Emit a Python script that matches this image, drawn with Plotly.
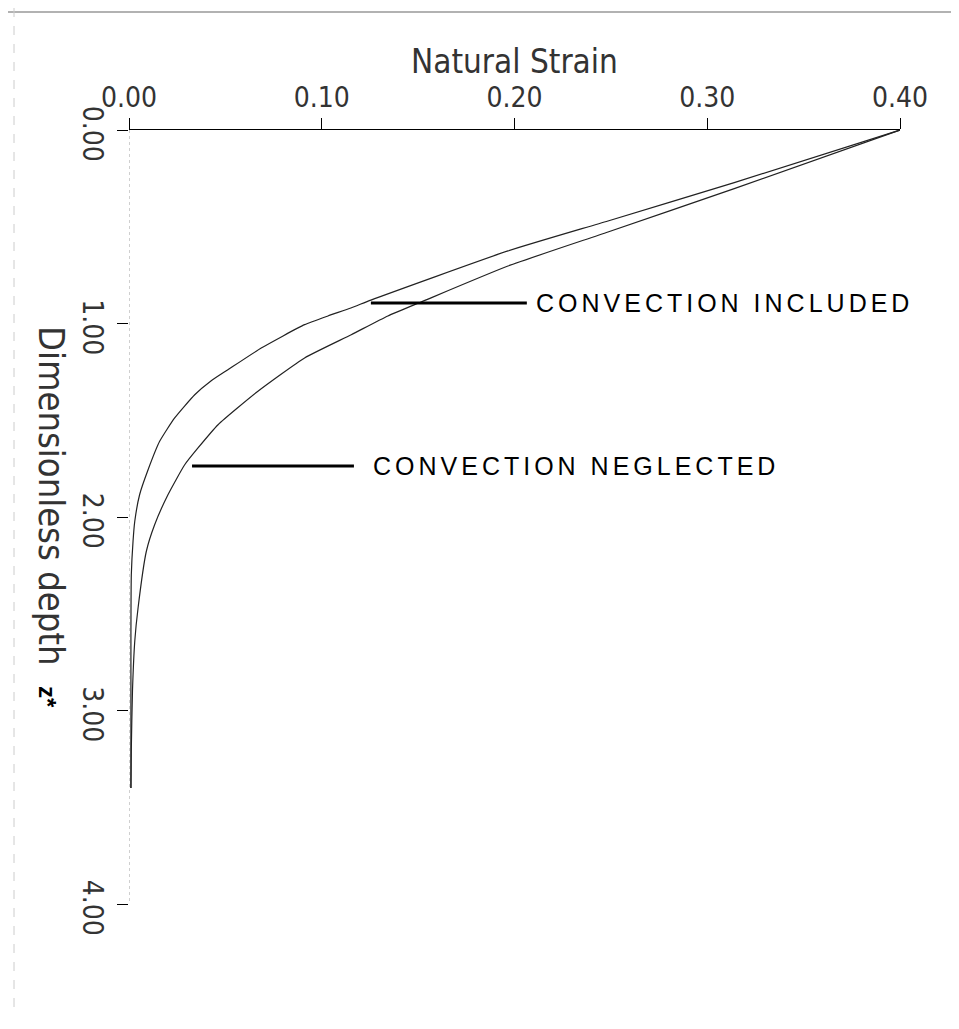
import plotly.graph_objects as go

# ---------------- data ----------------
depth_included = [0.000, 0.272, 0.470, 0.625, 0.879, 0.920, 0.961, 1.006, 1.127, 1.239,
                  1.297, 1.368, 1.488, 1.609, 1.756, 1.885, 2.022, 2.124, 2.298, 2.600,
                  3.000, 3.400]
strain_included = [0.400, 0.314, 0.2485, 0.1966, 0.1255, 0.1151, 0.1032, 0.0911, 0.0686, 0.0513,
                   0.0425, 0.0341, 0.0237, 0.0159, 0.0099, 0.0055, 0.0030, 0.0021, 0.0012, 0.0010,
                   0.0010, 0.0010]

depth_neglected = [0.000, 0.303, 0.527, 0.703, 0.889, 0.961, 1.058, 1.178, 1.350, 1.523,
                   1.643, 1.730, 1.885, 2.040, 2.177, 2.470, 2.641, 2.900, 3.200, 3.400]
strain_neglected = [0.400, 0.314, 0.2485, 0.1966, 0.1515, 0.1343, 0.1153, 0.0911, 0.0669, 0.0462,
                    0.0358, 0.0289, 0.0202, 0.0133, 0.0090, 0.0047, 0.0030, 0.0018, 0.0012, 0.0010]

x_tick_vals = [0.0, 0.1, 0.2, 0.3, 0.4]
x_tick_text = ["0.00", "0.10", "0.20", "0.30", "0.40"]
y_tick_vals = [0, 1, 2, 3, 4]
y_tick_text = ["0.00", "1.00", "2.00", "3.00", "4.00"]

x_title = "Natural Strain"
y_title = "Dimensionless depth"
label_included = "CONVECTION INCLUDED"
label_neglected = "CONVECTION NEGLECTED"

# annotation pointer positions (strain, depth)
inc_line = dict(x0=0.1255, x1=0.2064, depth=0.894, text_x=0.2101)
neg_line = dict(x0=0.0327, x1=0.1167, depth=1.736, text_x=0.1255)

# ---------------- layout constants ----------------
W, H = 959, 1029
ML, MR, MT, MB = 121, 67, 122, 133
PW, PH = W - ML - MR, H - MT - MB

def px_x(p):
    return (p - ML) / PW

def px_y(p):
    return (H - MB - p) / PH

STROKE_FONT = "Liberation Sans Narrow, DejaVu Sans Condensed, Arial Narrow, sans-serif"
INK = "#333333"

fig = go.Figure()
line_style = dict(color="#222222", width=1.2, shape="spline", smoothing=0.5)
fig.add_trace(go.Scatter(x=strain_neglected, y=depth_neglected, mode="lines",
                         line=line_style, name=label_neglected, showlegend=False))
fig.add_trace(go.Scatter(x=strain_included, y=depth_included, mode="lines",
                         line=line_style, name=label_included, showlegend=False))

fig.update_layout(
    width=W, height=H,
    margin=dict(l=ML, r=MR, t=MT, b=MB, pad=0),
    paper_bgcolor="white", plot_bgcolor="white",
    showlegend=False,
    xaxis=dict(
        side="top", range=[0, 0.4], showgrid=False, zeroline=False,
        showline=True, linecolor="black", linewidth=1.3,
        tickmode="array", tickvals=x_tick_vals, ticktext=x_tick_text,
        ticks="outside", ticklen=11, tickwidth=1, tickcolor="black",
        tickfont=dict(family=STROKE_FONT, size=28, color=INK),
    ),
    yaxis=dict(
        range=[4, 0], showgrid=False, zeroline=False, showline=False,
        tickmode="array", tickvals=y_tick_vals, ticktext=y_tick_text,
        ticks="outside", ticklen=11, tickwidth=1, tickcolor="black",
        tickangle=90, ticklabelshift=-8,
        tickfont=dict(family=STROKE_FONT, size=28, color=INK),
    ),
)

# faint dotted vertical axis line
fig.add_shape(type="line", xref="x", yref="y", x0=0, x1=0, y0=0, y1=4,
              line=dict(color="#a0a0a0", width=1, dash="dot"))

# pointer lines
for ln in (inc_line, neg_line):
    fig.add_shape(type="line", xref="x", yref="y", x0=ln["x0"], x1=ln["x1"],
                  y0=ln["depth"], y1=ln["depth"], line=dict(color="black", width=3))

fig.add_annotation(x=inc_line["text_x"], y=inc_line["depth"], xref="x", yref="y",
                   xanchor="left", yanchor="middle", showarrow=False,
                   text=f'<span style="letter-spacing:4px">{label_included}</span>',
                   font=dict(family="Liberation Sans, Arial, sans-serif", size=25, color="black"))
fig.add_annotation(x=neg_line["text_x"], y=neg_line["depth"], xref="x", yref="y",
                   xanchor="left", yanchor="middle", showarrow=False,
                   text=f'<span style="letter-spacing:4px">{label_neglected}</span>',
                   font=dict(family="Liberation Sans, Arial, sans-serif", size=25, color="black"))

# axis titles
fig.add_annotation(x=0.5, y=px_y(53), xref="paper", yref="paper", showarrow=False,
                   xanchor="center", yanchor="middle", text=x_title,
                   font=dict(family=STROKE_FONT, size=33, color=INK))
fig.add_annotation(x=px_x(44), y=px_y(509), xref="paper", yref="paper", showarrow=False,
                   xanchor="center", yanchor="middle", textangle=90,
                   text=f'{y_title}  <span style="font-family:Liberation Sans, Arial;font-weight:bold;font-size:24px;fill:#000">z*</span>',
                   font=dict(family=STROKE_FONT, size=36, color=INK))

# scan border artefacts
fig.add_shape(type="line", xref="paper", yref="paper", x0=px_x(0), x1=px_x(W), y0=px_y(4), y1=px_y(4),
              line=dict(color="#666666", width=1.2))
fig.add_shape(type="line", xref="paper", yref="paper", x0=px_x(6), x1=px_x(6), y0=px_y(0), y1=px_y(1000),
              line=dict(color="#cccccc", width=1, dash="dash"))

fig.write_html("out.html")
